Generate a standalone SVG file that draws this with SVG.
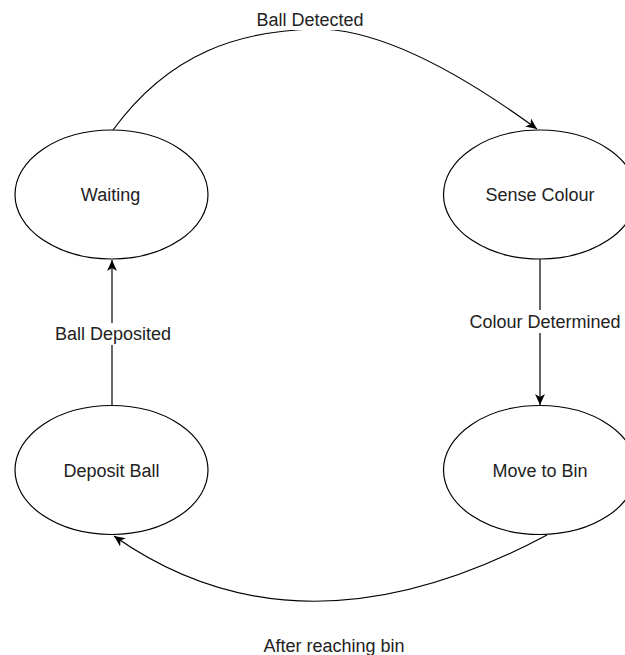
<svg xmlns="http://www.w3.org/2000/svg" width="625" height="655" viewBox="0 0 625 655">
  <defs>
    <marker id="arrow" viewBox="0 0 10 10" markerWidth="11" markerHeight="11" markerUnits="userSpaceOnUse" refX="10" refY="5" orient="auto">
      <path d="M0,0.5 L10,5 L0,9.5 L2.8,5 Z" fill="#000"/>
    </marker>
  </defs>
  <style>
    .state { fill: #fff; stroke: #000; stroke-width: 1.2; }
    .edge { fill: none; stroke: #000; stroke-width: 1.2; marker-end: url(#arrow); }
    .label { font-family: "Liberation Sans", Arial, sans-serif; font-size: 18px; fill: #222; text-anchor: middle; }
    .lbg { fill: #fff; }
  </style>
  <rect width="625" height="655" fill="#fff"/>

  <!-- connectors -->
  <g id="connectors">
    <path class="edge" d="M113,130 C170,52 240,31 315,29 C385,28 470,80 537,129"/>
    <path class="edge" d="M540,259 L540,405"/>
    <path class="edge" d="M547,535 Q300,667 114,536"/>
    <path class="edge" d="M112,405 L112,260"/>
    <!-- edge labels -->
    <rect class="lbg" x="255" y="8" width="109" height="22"/>
    <text class="label" x="310" y="25.7">Ball Detected</text>
    <rect class="lbg" x="470" y="310" width="150" height="23"/>
    <text class="label" x="545" y="328">Colour Determined</text>
    <rect class="lbg" x="53" y="323" width="120" height="22"/>
    <text class="label" x="113" y="339.5">Ball Deposited</text>
    <text class="label" x="334" y="651.5">After reaching bin</text>
  </g>

  <!-- states -->
  <g id="waiting">
    <ellipse class="state" cx="111.5" cy="194.5" rx="96.5" ry="64.5"/>
    <text class="label" x="110.5" y="201">Waiting</text>
  </g>
  <g id="sense-colour">
    <ellipse class="state" cx="540" cy="194.5" rx="96.5" ry="64.5"/>
    <text class="label" x="540" y="201">Sense Colour</text>
  </g>
  <g id="move-to-bin">
    <ellipse class="state" cx="540" cy="470" rx="96.5" ry="64.5"/>
    <text class="label" x="540" y="476.5">Move to Bin</text>
  </g>
  <g id="deposit-ball">
    <ellipse class="state" cx="111.5" cy="470" rx="96.5" ry="64.5"/>
    <text class="label" x="111.5" y="476.5">Deposit Ball</text>
  </g>
</svg>
